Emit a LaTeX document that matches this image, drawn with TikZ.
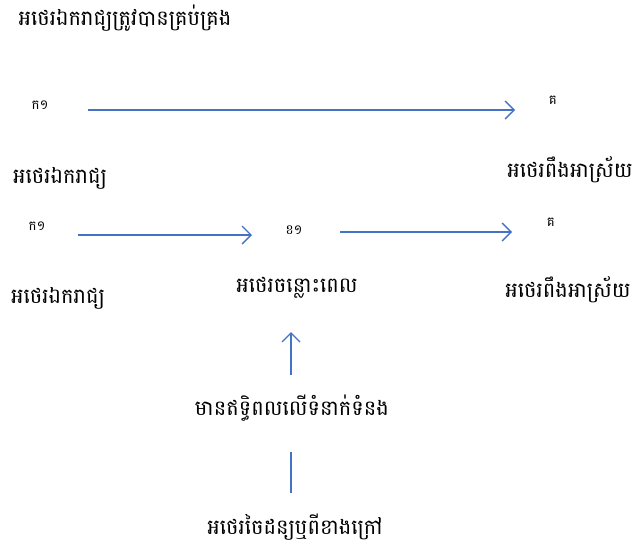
\documentclass[tikz,border=0pt]{standalone}
\usepackage{fontspec}
\newfontfamily\khmer[Script=Khmer]{Battambang}
\usetikzlibrary{arrows.meta}
\definecolor{arrowblue}{HTML}{4472C4}
\tikzset{
  lbl/.style={font=\khmer\fontsize{21}{24}\selectfont, inner sep=0pt},
  tag/.style={font=\khmer\fontsize{13.5}{15}\selectfont, inner sep=0pt},
  conn/.style={draw=arrowblue, line width=1.4pt, -{Straight Barb[length=9pt,width=18pt,line width=1.4pt]}},
  plain/.style={draw=arrowblue, line width=1.4pt}
}
\begin{document}
\begin{tikzpicture}[x=1pt,y=-1pt]
\useasboundingbox (0,0) rectangle (634,547);
\node[lbl] (title) at (125,18) {អថេរឯករាជ្យត្រូវបានគ្រប់គ្រង};
\node[tag] (ka1) at (40,105) {ក១};
\node[tag] (ko1) at (553,100) {គ};
\node[lbl] (iv1) at (60,178) {អថេរឯករាជ្យ};
\node[lbl] (dv1) at (570,170) {អថេរពឹងអាស្រ័យ};
\coordinate (a1s) at (88,110);
\coordinate (a1e) at (515,110);
\draw[conn] (a1s) -- (a1e);

\node[tag] (ka2) at (37,226) {ក១};
\node[tag] (kha1) at (294,230) {ខ១};
\node[tag] (ko2) at (551,222) {គ};
\coordinate (a2s) at (78,235);
\coordinate (a2e) at (252,235);
\coordinate (a3s) at (340,232);
\coordinate (a3e) at (512,232);
\draw[conn] (a2s) -- (a2e);
\draw[conn] (a3s) -- (a3e);
\node[lbl] (iv2) at (58,298) {អថេរឯករាជ្យ};
\node[lbl] (mv) at (297,288) {អថេរចន្លោះពេល};
\node[lbl] (dv2) at (568,290) {អថេរពឹងអាស្រ័យ};

\coordinate (a4s) at (291,375);
\coordinate (a4e) at (291,332);
\draw[conn] (a4s) -- (a4e);
\node[lbl] (inf) at (292,408) {មានឥទ្ធិពលលើទំនាក់ទំនង};
\coordinate (l5s) at (291,493);
\coordinate (l5e) at (291,452);
\draw[plain] (l5s) -- (l5e);
\node[lbl] (ext) at (295,527) {អថេរចៃដន្យឬពីខាងក្រៅ};
\end{tikzpicture}
\end{document}
